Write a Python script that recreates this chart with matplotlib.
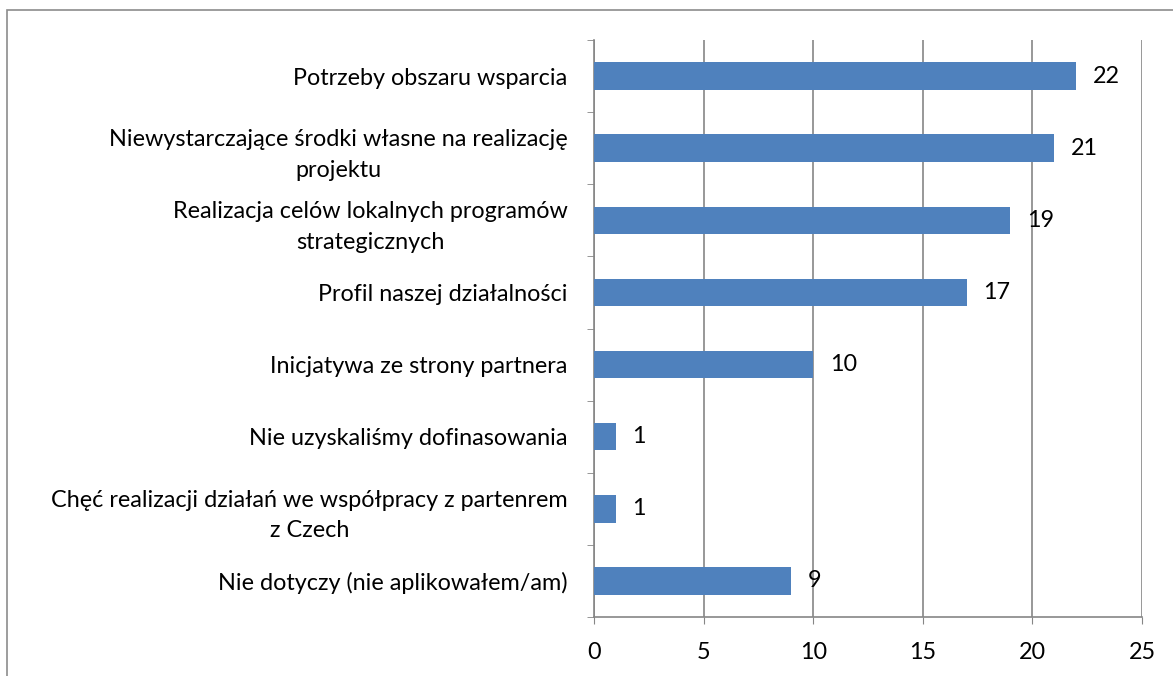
import matplotlib.pyplot as plt
from matplotlib.patches import Rectangle

# Reasons for applying, listed top to bottom
categories = [
    "Potrzeby obszaru wsparcia",
    "Niewystarczające środki własne na realizację\nprojektu",
    "Realizacja celów lokalnych programów\nstrategicznych",
    "Profil naszej działalności",
    "Inicjatywa ze strony partnera",
    "Nie uzyskaliśmy dofinasowania",
    "Chęć realizacji działań we współpracy z partenrem\nz Czech",
    "Nie dotyczy (nie aplikowałem/am)",
]
counts = [22, 21, 19, 17, 10, 1, 1, 9]
x_ticks = [0, 5, 10, 15, 20, 25]

BAR_COLOR = "#4F81BD"
GRID_COLOR = "#868686"
FS = 16.8

plt.rcParams["font.family"] = ["Lato", "DejaVu Sans"]

fig = plt.figure(figsize=(11.73, 6.76), dpi=100)
ax = fig.add_axes([594 / 1173, 1 - 617 / 676, (1142 - 594) / 1173, (617 - 40) / 676])

n = len(categories)
ypos = list(range(n))
ax.barh(ypos, counts, height=0.38, color=BAR_COLOR, zorder=3)
for y, v in zip(ypos, counts):
    ax.annotate(str(v), (v, y), xytext=(12, 0), textcoords="offset points",
                va="center", ha="left", fontsize=FS, color="black", zorder=4)

ax.set_xlim(0, 25)
ax.set_ylim(n - 0.5, -0.5)
ax.set_xticks(x_ticks)
ax.tick_params(axis="x", length=5, color=GRID_COLOR, labelsize=FS, pad=13)
ax.xaxis.grid(True, color=GRID_COLOR, linewidth=1.2, zorder=0)

# category labels sit between the boundary tick marks
ax.set_yticks(ypos)
ax.set_yticklabels(categories, fontsize=FS, ha="right", multialignment="center", linespacing=1.55)
ax.tick_params(axis="y", length=0, pad=19)
ax.set_yticks([i - 0.5 for i in range(n + 1)], minor=True)
ax.tick_params(axis="y", which="minor", length=5, color=GRID_COLOR)

for side in ("top", "right"):
    ax.spines[side].set_visible(False)
for side in ("left", "bottom"):
    ax.spines[side].set_color(GRID_COLOR)
    ax.spines[side].set_linewidth(1.2)

# chart area border
fig.patches.append(Rectangle((7 / 1173, -0.1), 1.2, 1 - 10 / 676 + 0.1,
                             transform=fig.transFigure, fill=False,
                             edgecolor="#8C8C8C", linewidth=1.2))

fig.savefig("out.png", dpi=100)
